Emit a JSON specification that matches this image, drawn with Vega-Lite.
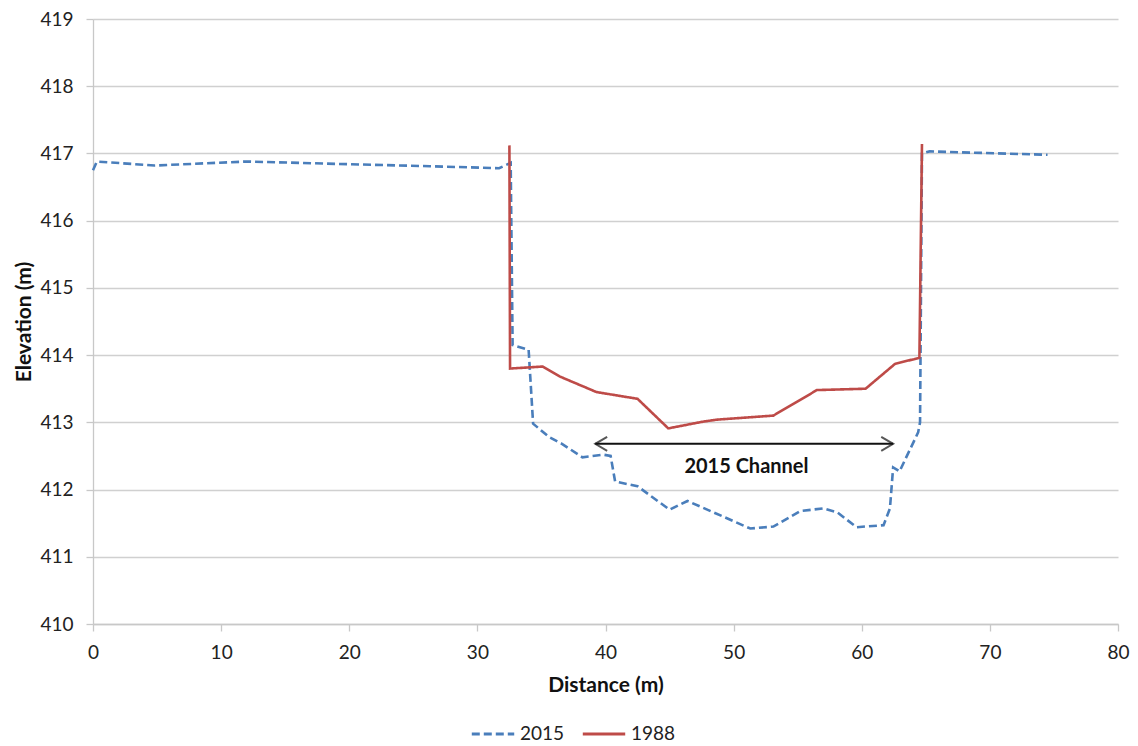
{
  "$schema": "https://vega.github.io/schema/vega-lite/v6.json",
  "width": 1025,
  "height": 605,
  "autosize": {"type": "none"},
  "padding": {"left": 93, "top": 19, "right": 20, "bottom": 122},
  "background": "white",
  "config": {
    "font": "Lato",
    "view": {"stroke": null},
    "axis": {
      "labelFont": "Lato", "labelFontSize": 19, "labelColor": "#222222",
      "titleFont": "Lato", "titleFontSize": 21, "titleFontWeight": "bold", "titleColor": "#111111",
      "domainColor": "#c8c8c8", "tickColor": "#c8c8c8", "gridColor": "#d0d0d0",
      "tickSize": 7, "domainWidth": 1.3, "gridWidth": 1.3, "tickWidth": 1.3, "labelFlush": false
    }
  },
  "datasets": {
    "profiles": [
      {"series": "2015", "i": 1, "distance": 0.0, "elevation": 416.75},
      {"series": "2015", "i": 2, "distance": 0.3, "elevation": 416.88},
      {"series": "2015", "i": 3, "distance": 4.8, "elevation": 416.82},
      {"series": "2015", "i": 4, "distance": 12.0, "elevation": 416.88},
      {"series": "2015", "i": 5, "distance": 20.0, "elevation": 416.84},
      {"series": "2015", "i": 6, "distance": 26.3, "elevation": 416.81},
      {"series": "2015", "i": 7, "distance": 31.7, "elevation": 416.78},
      {"series": "2015", "i": 8, "distance": 32.6, "elevation": 416.86},
      {"series": "2015", "i": 9, "distance": 32.75, "elevation": 414.15},
      {"series": "2015", "i": 10, "distance": 34.0, "elevation": 414.08},
      {"series": "2015", "i": 11, "distance": 34.35, "elevation": 412.98},
      {"series": "2015", "i": 12, "distance": 35.6, "elevation": 412.78},
      {"series": "2015", "i": 13, "distance": 36.6, "elevation": 412.68},
      {"series": "2015", "i": 14, "distance": 38.2, "elevation": 412.48},
      {"series": "2015", "i": 15, "distance": 39.8, "elevation": 412.52},
      {"series": "2015", "i": 16, "distance": 40.4, "elevation": 412.5},
      {"series": "2015", "i": 17, "distance": 40.75, "elevation": 412.12},
      {"series": "2015", "i": 18, "distance": 42.5, "elevation": 412.05},
      {"series": "2015", "i": 19, "distance": 45.0, "elevation": 411.7},
      {"series": "2015", "i": 20, "distance": 46.4, "elevation": 411.83},
      {"series": "2015", "i": 21, "distance": 48.2, "elevation": 411.68},
      {"series": "2015", "i": 22, "distance": 51.3, "elevation": 411.42},
      {"series": "2015", "i": 23, "distance": 53.1, "elevation": 411.45},
      {"series": "2015", "i": 24, "distance": 55.2, "elevation": 411.68},
      {"series": "2015", "i": 25, "distance": 57.0, "elevation": 411.72},
      {"series": "2015", "i": 26, "distance": 58.1, "elevation": 411.66},
      {"series": "2015", "i": 27, "distance": 59.6, "elevation": 411.44},
      {"series": "2015", "i": 28, "distance": 61.7, "elevation": 411.47},
      {"series": "2015", "i": 29, "distance": 62.2, "elevation": 411.72},
      {"series": "2015", "i": 30, "distance": 62.45, "elevation": 412.33},
      {"series": "2015", "i": 31, "distance": 62.95, "elevation": 412.27},
      {"series": "2015", "i": 32, "distance": 64.4, "elevation": 412.85},
      {"series": "2015", "i": 33, "distance": 64.55, "elevation": 413.0},
      {"series": "2015", "i": 34, "distance": 64.7, "elevation": 417.0},
      {"series": "2015", "i": 35, "distance": 65.3, "elevation": 417.03},
      {"series": "2015", "i": 36, "distance": 74.5, "elevation": 416.98},
      {"series": "1988", "i": 1, "distance": 32.5, "elevation": 417.12},
      {"series": "1988", "i": 2, "distance": 32.55, "elevation": 413.8},
      {"series": "1988", "i": 3, "distance": 35.1, "elevation": 413.83},
      {"series": "1988", "i": 4, "distance": 36.45, "elevation": 413.68},
      {"series": "1988", "i": 5, "distance": 39.3, "elevation": 413.45},
      {"series": "1988", "i": 6, "distance": 42.5, "elevation": 413.35},
      {"series": "1988", "i": 7, "distance": 44.9, "elevation": 412.91},
      {"series": "1988", "i": 8, "distance": 47.6, "elevation": 413.01},
      {"series": "1988", "i": 9, "distance": 48.7, "elevation": 413.04},
      {"series": "1988", "i": 10, "distance": 53.1, "elevation": 413.1},
      {"series": "1988", "i": 11, "distance": 56.5, "elevation": 413.48},
      {"series": "1988", "i": 12, "distance": 60.3, "elevation": 413.5},
      {"series": "1988", "i": 13, "distance": 62.6, "elevation": 413.87},
      {"series": "1988", "i": 14, "distance": 64.5, "elevation": 413.96},
      {"series": "1988", "i": 15, "distance": 64.7, "elevation": 417.14}
    ],
    "arrow": [{"start": 39.2, "end": 62.45, "elevation": 412.68}],
    "heads": [
      {"side": "left", "distance": 39.2, "elevation": 412.68},
      {"side": "right", "distance": 62.45, "elevation": 412.68}
    ],
    "label": [{"text": "2015 Channel", "distance": 51.0, "elevation": 412.33}]
  },
  "layer": [
    {
      "data": {"name": "profiles"},
      "mark": {"type": "line", "strokeWidth": 2.6},
      "encoding": {
        "x": {
          "field": "distance", "type": "quantitative",
          "scale": {"domain": [0, 80], "nice": false},
          "axis": {"values": [0, 10, 20, 30, 40, 50, 60, 70, 80], "grid": false, "title": "Distance (m)", "labelPadding": 12, "titlePadding": 12}
        },
        "y": {
          "field": "elevation", "type": "quantitative",
          "scale": {"domain": [410, 419], "nice": false, "zero": false},
          "axis": {"values": [410, 411, 412, 413, 414, 415, 416, 417, 418, 419], "format": "d", "grid": true, "title": "Elevation (m)", "labelPadding": 13, "titlePadding": 5}
        },
        "color": {
          "field": "series", "type": "nominal",
          "scale": {"domain": ["2015", "1988"], "range": ["#4a7ebb", "#be4b48"]},
          "legend": {
            "title": null, "orient": "none", "direction": "horizontal",
            "legendX": 377, "legendY": 692,
            "symbolType": "stroke", "symbolSize": 1800, "symbolStrokeWidth": 2.8,
            "labelFont": "Lato", "labelFontSize": 19, "labelColor": "#222222",
            "columnPadding": 12, "labelOffset": 4
          }
        },
        "strokeDash": {
          "field": "series", "type": "nominal",
          "scale": {"domain": ["2015", "1988"], "range": [[8, 4], [1, 0]]},
          "legend": null
        },
        "order": {"field": "i", "type": "quantitative"}
      }
    },
    {
      "data": {"name": "arrow"},
      "mark": {"type": "rule", "color": "#111111", "strokeWidth": 2},
      "encoding": {
        "x": {"field": "start", "type": "quantitative"},
        "x2": {"field": "end"},
        "y": {"field": "elevation", "type": "quantitative"}
      }
    },
    {
      "data": {"name": "heads"},
      "mark": {"type": "point", "filled": false, "color": "#111111", "strokeWidth": 2, "size": 196},
      "encoding": {
        "x": {"field": "distance", "type": "quantitative"},
        "y": {"field": "elevation", "type": "quantitative"},
        "shape": {
          "field": "side", "type": "nominal",
          "scale": {"domain": ["left", "right"], "range": ["M1.7,-1L0,0L1.7,1", "M-1.7,-1L0,0L-1.7,1"]},
          "legend": null
        }
      }
    },
    {
      "data": {"name": "label"},
      "mark": {"type": "text", "font": "Lato", "fontSize": 20, "fontWeight": "bold", "color": "#111111", "align": "center", "baseline": "middle"},
      "encoding": {
        "x": {"field": "distance", "type": "quantitative"},
        "y": {"field": "elevation", "type": "quantitative"},
        "text": {"field": "text"}
      }
    }
  ]
}
